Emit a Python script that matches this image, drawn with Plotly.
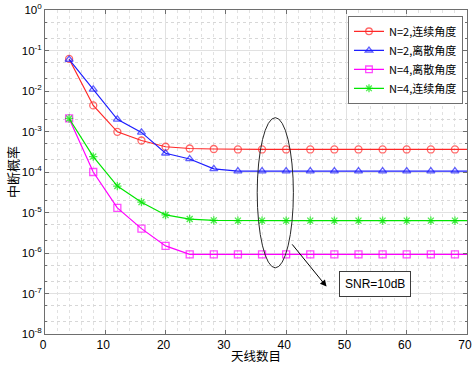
import plotly.graph_objects as go

# ---- data ----
antennas = [4, 8, 12, 16, 20, 24, 28, 32, 36, 40, 44, 48, 52, 56, 60, 64, 68, 70]
n2_cont = [6.2e-2, 4.4e-3, 9.8e-4, 6.0e-4, 4.2e-4, 3.8e-4, 3.7e-4, 3.6e-4, 3.6e-4, 3.6e-4,
           3.6e-4, 3.6e-4, 3.6e-4, 3.6e-4, 3.6e-4, 3.6e-4, 3.6e-4, 3.6e-4]
n2_disc = [6.0e-2, 1.1e-2, 2.0e-3, 9.5e-4, 2.9e-4, 2.1e-4, 1.2e-4, 1.05e-4, 1.05e-4, 1.05e-4,
           1.05e-4, 1.05e-4, 1.05e-4, 1.05e-4, 1.05e-4, 1.05e-4, 1.05e-4, 1.05e-4]
n4_disc = [2.1e-3, 1.0e-4, 1.3e-5, 4.0e-6, 1.5e-6, 9.3e-7, 9.3e-7, 9.3e-7, 9.3e-7, 9.3e-7,
           9.3e-7, 9.3e-7, 9.3e-7, 9.3e-7, 9.3e-7, 9.3e-7, 9.3e-7, 9.3e-7]
n4_cont = [2.1e-3, 2.4e-4, 4.5e-5, 1.8e-5, 8.7e-6, 6.9e-6, 6.4e-6, 6.3e-6, 6.3e-6, 6.3e-6,
           6.3e-6, 6.3e-6, 6.3e-6, 6.3e-6, 6.3e-6, 6.3e-6, 6.3e-6, 6.3e-6]
series_names = ["N=2,连续角度", "N=2,离散角度", "N=4,离散角度", "N=4,连续角度"]
xticks = [0, 10, 20, 30, 40, 50, 60, 70]
yexps = [0, -1, -2, -3, -4, -5, -6, -7, -8]
x_title = "天线数目"
y_title = "中断概率"

cjk = "Noto Sans CJK SC"
sans = "Liberation Sans, Arial, sans-serif"

fig = go.Figure()
styles = [
    (n2_cont, "rgb(255,40,40)", "circle-open"),
    (n2_disc, "rgb(30,30,255)", "triangle-up-open"),
    (n4_disc, "rgb(255,0,255)", "square-open"),
    (n4_cont, "rgb(0,230,0)", "asterisk-open"),
]
msize = [7] * (len(antennas) - 1) + [0]
for (vals, col, sym), name in zip(styles, series_names):
    fig.add_trace(go.Scatter(
        x=antennas, y=vals, name=name, mode="lines+markers",
        line=dict(color=col, width=1.2),
        marker=dict(symbol=sym, size=msize, color=col, line=dict(color=col, width=1.3)),
    ))

fig.update_layout(
    width=472, height=366,
    margin=dict(l=45, r=5, t=10, b=32),
    paper_bgcolor="white", plot_bgcolor="white",
    font=dict(family=sans, size=12, color="black"),
    showlegend=True,
    legend=dict(
        x=0.718, y=0.982, xanchor="left", yanchor="top",
        bgcolor="white", bordercolor="rgb(110,110,110)", borderwidth=1,
        font=dict(family=cjk, size=11, color="black"),
        tracegroupgap=0, itemwidth=30,
    ),
    xaxis=dict(
        range=[0, 70], tickvals=xticks, ticktext=[str(v) for v in xticks],
        automargin=False, ticklabeloverflow="allow", ticklabelshift=-2,
        showgrid=True, gridcolor="rgb(225,225,225)", gridwidth=1,
        minor=dict(dtick=2, showgrid=True, gridcolor="rgb(225,225,225)", griddash="dot", ticks=""),
        zeroline=False, showline=True, linecolor="rgb(110,110,110)", mirror="ticks",
        ticks="inside", ticklen=4, tickcolor="rgb(110,110,110)",
        tickfont=dict(family=sans, size=12),
    ),
    yaxis=dict(
        type="log", range=[-8, 0],
        tickvals=[10 ** e for e in yexps],
        ticktext=["10<sup>%d</sup>" % e for e in yexps],
        automargin=False, ticklabeloverflow="allow",
        showgrid=True, gridcolor="rgb(225,225,225)", gridwidth=1,
        minor=dict(showgrid=True, gridcolor="rgb(215,215,215)", griddash="dot", ticks="inside",
                   ticklen=2, tickcolor="rgb(110,110,110)"),
        zeroline=False, showline=True, linecolor="rgb(110,110,110)", mirror="ticks",
        ticks="inside", ticklen=4, tickcolor="rgb(110,110,110)",
        title=dict(text=y_title, font=dict(family=cjk, size=13), standoff=0),
        tickfont=dict(family=sans, size=11.5),
    ),
)

# x-axis title placed below the tick labels
fig.add_annotation(x=0.5, y=0, xref="paper", yref="paper", text=x_title,
                   showarrow=False, xanchor="center", yanchor="bottom", yshift=-32,
                   borderpad=0,
                   font=dict(family=cjk, size=12.5, color="black"))

# ellipse around x≈38
fig.add_shape(type="circle", xref="x", yref="y",
              x0=35.2, x1=41.2, y0=4.3e-7, y1=2.2e-3,
              line=dict(color="rgb(40,40,40)", width=1))

# arrow (annotation coords on log axis are log10 values)
fig.add_annotation(x=46.7, y=-6.83, ax=40.8, ay=-5.75, xref="x", yref="y",
                   axref="x", ayref="y", text="", showarrow=True,
                   arrowhead=2, arrowsize=1.3, arrowwidth=1, arrowcolor="black")
# label box
fig.add_annotation(x=54.8, y=-6.77, xref="x", yref="y", text="SNR=10dB",
                   showarrow=False, font=dict(family=sans, size=12, color="black"),
                   bordercolor="rgb(60,60,60)", borderwidth=1, borderpad=5, bgcolor="white")

fig.write_html("out.html", config={"displayModeBar": False},
               post_script="document.body.style.margin='0px';")
